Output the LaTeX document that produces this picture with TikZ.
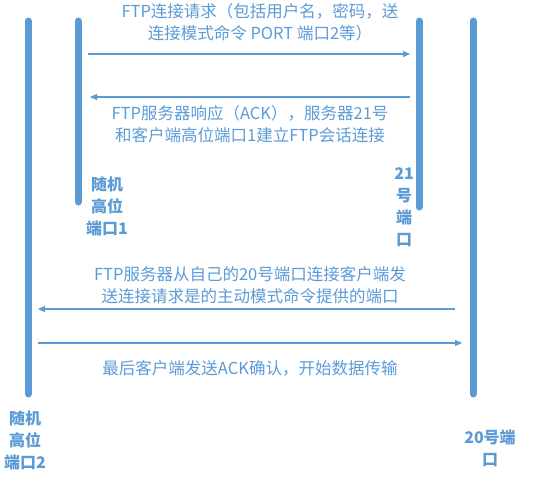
\documentclass[tikz,border=0pt]{standalone}
\usepackage{fontspec}
\setmainfont{Noto Sans CJK SC}
\usetikzlibrary{arrows.meta}
\definecolor{ftpblue}{HTML}{5B9BD5}
\tikzset{
	bar/.style={line width=7pt, line cap=round, ftpblue},
	msg/.style={-{Triangle[length=7pt,width=6pt]}, line width=1.1pt, ftpblue},
	note/.style={align=center, text=ftpblue, inner sep=0pt, font=\fontsize{16.5}{22}\selectfont},
	port/.style={note, font=\bfseries\fontsize{16}{22}\selectfont}
}
\begin{document}
\begin{tikzpicture}[x=1pt, y=-1pt]
\useasboundingbox (0,0) rectangle (554,480);

% bars
\coordinate (cl-top) at (28,21);	\coordinate (cl-bot) at (28,394);
\coordinate (hi-top) at (78,21);	\coordinate (hi-bot) at (78,202);
\coordinate (sv-top) at (419,21);	\coordinate (sv-bot) at (419,207);
\coordinate (dt-top) at (473,21);	\coordinate (dt-bot) at (473,394);
\draw[bar] (cl-top) -- (cl-bot);
\draw[bar] (hi-top) -- (hi-bot);
\draw[bar] (sv-top) -- (sv-bot);
\draw[bar] (dt-top) -- (dt-bot);

% message ends
\coordinate (m1a) at (88,54);	\coordinate (m1b) at (410,54);
\coordinate (m2a) at (410,97);	\coordinate (m2b) at (90,97);
\coordinate (m3a) at (455,309);	\coordinate (m3b) at (38,309);
\coordinate (m4a) at (38,343);	\coordinate (m4b) at (462,343);

\draw[msg] (m1a) -- (m1b);
\draw[msg] (m2a) -- (m2b);
\draw[msg] (m3a) -- (m3b);
\draw[msg] (m4a) -- (m4b);

\node[note] (t1) at (260,22) {FTP连接请求（包括用户名，密码，送\\连接模式命令 PORT 端口2等）};
\node[note] (t2) at (250,124) {FTP服务器响应（ACK），服务器21号\\和客户端高位端口1建立FTP会话连接};
\node[note] (t3) at (250,285) {FTP服务器从自己的20号端口连接客户端发\\送连接请求是的主动模式命令提供的端口};
\node[note] (t4) at (250,368) {最后客户端发送ACK确认，开始数据传输};

% port labels
\node[port] (p1) at (107,206) {随机\\高位\\端口1};
\node[port] (p21) at (404,207) {21\\号\\端\\口};
\node[port] (p2) at (25,440) {随机\\高位\\端口2};
\node[port] (p20) at (490,448) {20号端\\口};

\end{tikzpicture}
\end{document}
